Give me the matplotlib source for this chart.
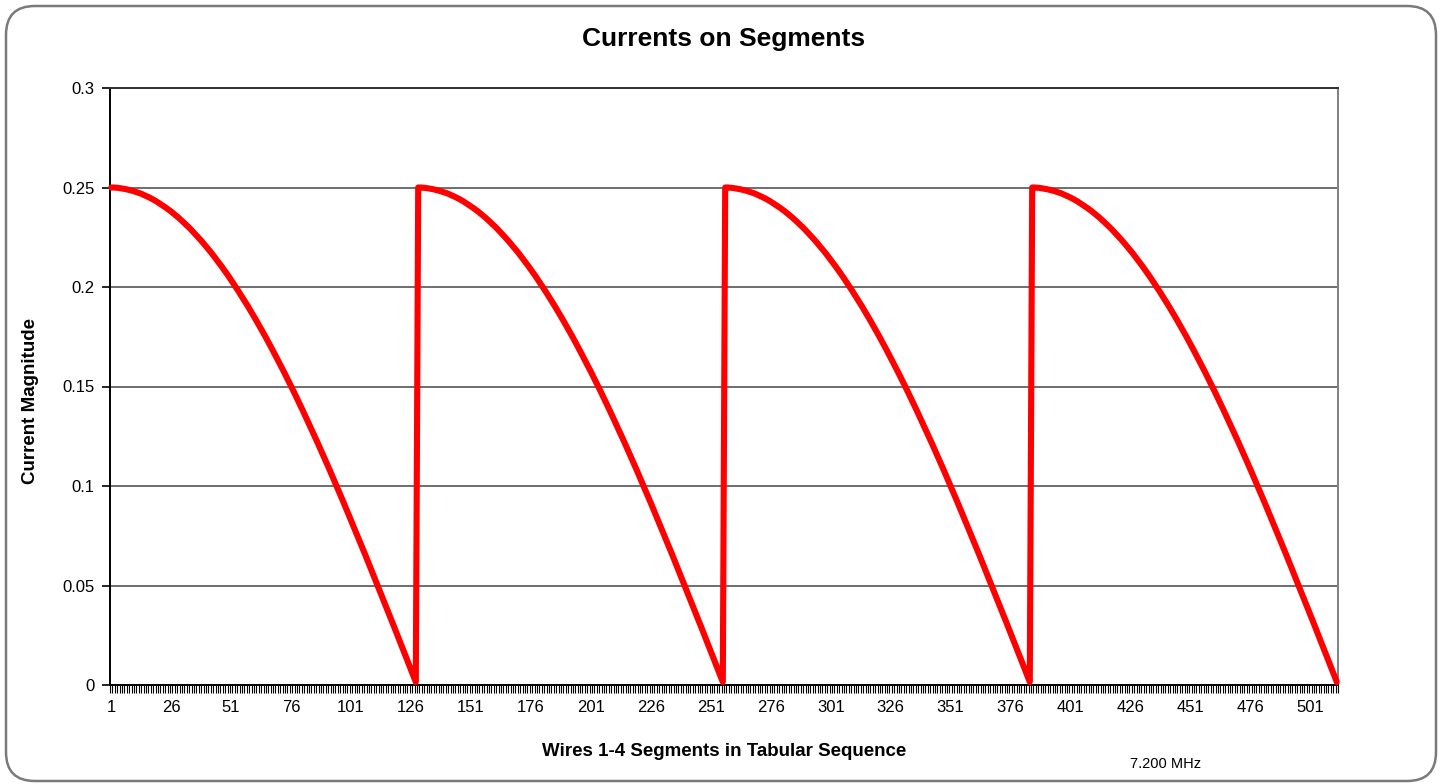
import numpy as np
import matplotlib
matplotlib.use("Agg")
import matplotlib.pyplot as plt
from matplotlib.patches import FancyBboxPatch

# current magnitude along one wire, segment 1 (feed end) to segment 128 (tip)
segment_current = [
    0.2500, 0.2500, 0.2499, 0.2498, 0.2496, 0.2494, 0.2492, 0.2489,
    0.2486, 0.2483, 0.2479, 0.2475, 0.2471, 0.2466, 0.2460, 0.2455,
    0.2449, 0.2443, 0.2436, 0.2429, 0.2421, 0.2413, 0.2405, 0.2397,
    0.2388, 0.2379, 0.2369, 0.2359, 0.2349, 0.2338, 0.2327, 0.2315,
    0.2304, 0.2292, 0.2279, 0.2266, 0.2253, 0.2240, 0.2226, 0.2212,
    0.2197, 0.2183, 0.2168, 0.2152, 0.2136, 0.2120, 0.2104, 0.2087,
    0.2070, 0.2053, 0.2035, 0.2017, 0.1999, 0.1980, 0.1961, 0.1942,
    0.1923, 0.1903, 0.1883, 0.1863, 0.1842, 0.1821, 0.1800, 0.1779,
    0.1757, 0.1735, 0.1713, 0.1690, 0.1667, 0.1644, 0.1621, 0.1598,
    0.1574, 0.1550, 0.1526, 0.1502, 0.1477, 0.1452, 0.1427, 0.1402,
    0.1376, 0.1350, 0.1325, 0.1298, 0.1272, 0.1246, 0.1219, 0.1192,
    0.1165, 0.1138, 0.1110, 0.1083, 0.1055, 0.1027, 0.0999, 0.0971,
    0.0942, 0.0914, 0.0885, 0.0857, 0.0828, 0.0799, 0.0770, 0.0740,
    0.0711, 0.0682, 0.0652, 0.0622, 0.0593, 0.0563, 0.0533, 0.0503,
    0.0473, 0.0442, 0.0412, 0.0382, 0.0352, 0.0321, 0.0291, 0.0260,
    0.0230, 0.0199, 0.0169, 0.0138, 0.0107, 0.0077, 0.0046, 0.0015,
]
n_wires = 4  # wires 1-4 carry the same distribution

currents = segment_current * n_wires
segments = np.arange(1, len(currents) + 1)
x_labels = list(range(1, len(currents) + 1, 25))
y_ticks = [0, 0.05, 0.1, 0.15, 0.2, 0.25, 0.3]
y_labels = ["0", "0.05", "0.1", "0.15", "0.2", "0.25", "0.3"]

plt.rcParams['font.family'] = ['Liberation Sans', 'DejaVu Sans']

W, H = 1443, 784
fig = plt.figure(figsize=(W / 100, H / 100), dpi=100)

def fx(px):
    return px / W

def fy(py):
    return 1 - py / H

# rounded chart frame, kept behind the axes
frame = FancyBboxPatch((fx(6), fy(781)), fx(1430), fy(6) - fy(781),
                       boxstyle="round,pad=0,rounding_size=0.02",
                       transform=fig.transFigure, facecolor="white",
                       edgecolor="#7a7a7a", linewidth=1.8, zorder=-10,
                       mutation_aspect=W / H)
fig.patches.append(frame)

ax = fig.add_axes([fx(110), fy(685), fx(1338) - fx(110), fy(88) - fy(685)])
ax.set_zorder(1)
ax.set_facecolor("white")

ax.plot(segments, currents, color="#ff0000", linewidth=4.4,
        solid_joinstyle="round", solid_capstyle="round", zorder=3,
        clip_on=False)

ax.set_xlim(0.5, len(currents) + 0.5)
ax.set_ylim(0, 0.3)

ax.set_yticks(y_ticks)
ax.set_yticklabels(y_labels, fontsize=12)
ax.yaxis.grid(True, color="#6e6e6e", linewidth=1.4)
ax.set_axisbelow(True)
ax.tick_params(axis="y", length=6, width=1.2, color="black", pad=5)

ax.set_xticks(x_labels)
ax.set_xticklabels([str(v) for v in x_labels], fontsize=12)
ax.set_xticks(np.arange(0.5, len(currents) + 1, 1), minor=True)
ax.tick_params(axis="x", which="major", length=0, pad=11)
ax.tick_params(axis="x", which="minor", length=6, width=0.8, color="black")

for side in ("left", "bottom"):
    ax.spines[side].set_color("black")
    ax.spines[side].set_linewidth(1.4)
ax.spines["top"].set_color("#303030")
ax.spines["top"].set_linewidth(1.4)
ax.spines["right"].set_color("#808080")
ax.spines["right"].set_linewidth(1.4)

fig.text(fx(724), fy(39), "Currents on Segments", ha="center", va="center",
         fontsize=19, fontweight="bold")
fig.text(fx(31), fy(401), "Current Magnitude", ha="center", va="center",
         rotation=90, fontsize=13.5, fontweight="bold")
fig.text(fx(724), fy(752), "Wires 1-4 Segments in Tabular Sequence",
         ha="center", va="center", fontsize=13.5, fontweight="bold")
fig.text(fx(1166), fy(764), "7.200 MHz", ha="center", va="center",
         fontsize=10.5)

fig.savefig("out.png", dpi=100)
